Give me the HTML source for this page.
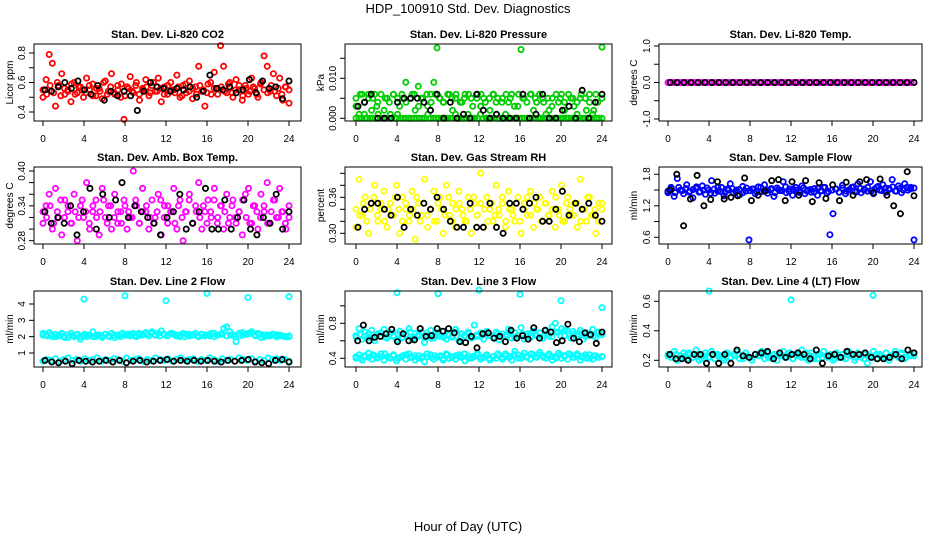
<!DOCTYPE html>
<html><head><meta charset="utf-8">
<style>
html,body{margin:0;padding:0;background:#fff;}
svg{display:block;font-family:"Liberation Sans",Arial,sans-serif;}
</style></head>
<body>
<svg id="chart" width="936" height="540" viewBox="0 0 936 540" xmlns="http://www.w3.org/2000/svg">
<rect x="0" y="0" width="936" height="540" fill="#fff"/>
<text x="468" y="13" text-anchor="middle" font-size="13">HDP_100910  Std. Dev. Diagnostics</text>
<text x="468" y="531" text-anchor="middle" font-size="13">Hour of Day (UTC)</text>
</svg>
<script>
const xTicks=[0,4,8,12,16,20,24];
// ---- data ----
const co2Vals=[0.50,0.62,0.79,0.73,0.44,0.58,0.66,0.52,0.55,0.47,0.60,0.53,0.57,0.50,0.63,0.55,0.59,0.51,0.56,0.49,0.61,0.54,0.66,0.52,0.58,0.50,0.35,0.57,0.64,0.53,0.60,0.48,0.56,0.62,0.51,0.58,0.54,0.63,0.47,0.57,0.52,0.60,0.55,0.65,0.50,0.58,0.53,0.61,0.49,0.57,0.71,0.54,0.44,0.59,0.52,0.67,0.56,0.85,0.71,0.53,0.60,0.50,0.62,0.55,0.48,0.58,0.52,0.63,0.56,0.50,0.60,0.78,0.71,0.54,0.66,0.51,0.63,0.48,0.57,0.46];
const co2Dense=[0.55,0.52,0.58,0.53,0.60,0.51,0.56,0.54,0.59,0.52,0.57,0.55,0.53,0.58,0.51,0.56,0.54,0.60,0.52,0.57,0.53,0.55,0.59,0.51,0.56,0.54,0.58,0.52,0.55,0.57,0.53,0.60,0.54,0.56,0.52,0.58,0.55,0.53,0.57,0.51,0.59,0.54,0.56,0.52,0.58,0.55,0.53,0.60,0.56,0.52,0.57,0.54,0.59,0.53,0.55,0.58,0.51,0.56,0.54,0.57,0.52,0.59,0.55,0.53,0.58,0.54,0.56,0.52,0.57,0.55];
const co2Black=[0.55,0.54,0.57,0.60,0.56,0.61,0.55,0.52,0.58,0.48,0.54,0.51,0.54,0.51,0.41,0.54,0.60,0.57,0.56,0.54,0.56,0.55,0.57,0.50,0.54,0.65,0.56,0.55,0.57,0.53,0.55,0.62,0.53,0.61,0.56,0.57,0.49,0.61];
const presVals=[0.003,0.001,0.006,0.000,0.005,0.002,0.006,0.004,0.000,0.002,0.005,0.001,0.006,0.000,0.003,0.005,0.009,0.000,0.006,0.002,0.008,0.005,0.000,0.003,0.006,0.009,0.0176,0.005,0.004,0.000,0.006,0.002,0.005,0.000,0.004,0.006,0.001,0.005,0.000,0.006,0.003,0.005,0.000,0.002,0.006,0.004,0.000,0.005,0.001,0.004,0.006,0.000,0.003,0.0172,0.005,0.000,0.006,0.002,0.004,0.000,0.005,0.001,0.002,0.005,0.000,0.004,0.006,0.002,0.000,0.005,0.003,0.001,0.005,0.000,0.002,0.004,0.001,0.006,0.000,0.0178];
const presMid=[0.005,0.006,0.004,0.006,0.005,0.003,0.006,0.005,0.004,0.006,0.005,0.006,0.004,0.005,0.006,0.003,0.005,0.006,0.004,0.006,0.005,0.004,0.006,0.005,0.006,0.004,0.005,0.006,0.003,0.005,0.006,0.004,0.005,0.006,0.005,0.004,0.006,0.005,0.003,0.006,0.005,0.004,0.006,0.005,0.006,0.004,0.005,0.003,0.006,0.005,0.004,0.006,0.005,0.004,0.006,0.005,0.006,0.002,0.004,0.005];
const presLow=[0,0,0,0.001,0,0,0,0,0.001,0,0,0,0,0,0,0.001,0,0,0,0,0,0,0,0,0,0,0.001,0,0,0,0,0,0,0,0,0,0.001,0,0,0,0,0,0,0,0,0.001,0,0,0,0,0,0,0,0,0,0,0,0,0,0,0,0,0,0,0,0,0,0,0,0,0,0,0,0,0,0,0,0,0,0,0,0,0,0,0,0,0,0,0,0];
const presBlack=[0.003,0.004,0.006,0.000,0.000,0.000,0.004,0.005,0.005,0.005,0.004,0.002,0.006,0.000,0.004,0.000,0.001,0.000,0.006,0.002,0.000,0.001,0.000,0.000,0.000,0.006,0.000,0.001,0.006,0.000,0.000,0.002,0.003,0.000,0.007,0.000,0.004,0.006];
const tempVals=[0,0,0,0,0,0,0,0,0,0,0,0,0,0,0,0,0,0,0,0,0,0,0,0,0,0,0,0,0,0,0,0,0,0,0,0,0,0,0,0,0,0,0,0,0,0,0,0,0,0,0,0,0,0,0,0,0,0,0,0,0,0,0,0,0,0,0,0,0,0,0,0,0,0,0,0,0,0,0,0,0,0,0,0,0,0,0,0,0,0];
const tempBlack=[0,0,0,0,0,0,0,0,0,0,0,0,0,0,0,0,0,0,0,0,0,0,0,0,0,0,0,0,0,0,0,0,0,0,0,0];
const ambVals=[0.31,0.34,0.36,0.30,0.37,0.32,0.29,0.35,0.33,0.31,0.36,0.28,0.34,0.32,0.38,0.30,0.33,0.35,0.29,0.37,0.32,0.34,0.30,0.36,0.31,0.33,0.35,0.30,0.32,0.40,0.34,0.31,0.37,0.33,0.30,0.35,0.32,0.36,0.29,0.34,0.31,0.33,0.37,0.30,0.35,0.28,0.33,0.36,0.31,0.34,0.38,0.30,0.33,0.35,0.32,0.37,0.31,0.34,0.30,0.36,0.32,0.35,0.31,0.33,0.29,0.36,0.37,0.31,0.34,0.30,0.36,0.33,0.38,0.31,0.35,0.32,0.37,0.33,0.30,0.32];
const ambDense=[0.33,0.32,0.34,0.31,0.33,0.35,0.32,0.34,0.31,0.33,0.32,0.35,0.33,0.31,0.34,0.32,0.33,0.35,0.31,0.34,0.32,0.33,0.31,0.34,0.33,0.32,0.35,0.31,0.33,0.34,0.32,0.31,0.33,0.35,0.32,0.34,0.33,0.31,0.34,0.32,0.33,0.35,0.31,0.33,0.32,0.34,0.31,0.33,0.35,0.32,0.34,0.33,0.31,0.34,0.32,0.33,0.35,0.32,0.31,0.34,0.33,0.32,0.34,0.31,0.33,0.35,0.32,0.33,0.31,0.34];
const ambBlack=[0.33,0.31,0.32,0.31,0.34,0.29,0.33,0.37,0.30,0.36,0.32,0.35,0.38,0.32,0.34,0.33,0.32,0.31,0.29,0.32,0.33,0.36,0.30,0.31,0.33,0.37,0.30,0.30,0.35,0.30,0.32,0.35,0.30,0.29,0.32,0.31,0.36,0.30,0.33];
const rhVals=[0.31,0.39,0.33,0.36,0.30,0.35,0.38,0.32,0.34,0.37,0.31,0.35,0.33,0.38,0.30,0.36,0.34,0.32,0.37,0.29,0.35,0.33,0.39,0.31,0.34,0.37,0.32,0.36,0.30,0.38,0.33,0.35,0.31,0.37,0.34,0.32,0.36,0.30,0.35,0.33,0.40,0.31,0.36,0.34,0.32,0.38,0.33,0.35,0.31,0.37,0.34,0.32,0.36,0.30,0.35,0.33,0.37,0.31,0.34,0.36,0.32,0.35,0.33,0.37,0.31,0.34,0.38,0.32,0.36,0.33,0.35,0.31,0.39,0.34,0.32,0.36,0.33,0.30,0.35,0.34];
const rhDense=[0.34,0.33,0.35,0.32,0.34,0.36,0.33,0.35,0.32,0.34,0.33,0.36,0.34,0.32,0.35,0.33,0.34,0.36,0.32,0.35,0.33,0.34,0.32,0.35,0.34,0.33,0.36,0.32,0.34,0.35,0.33,0.32,0.34,0.36,0.33,0.35,0.34,0.32,0.35,0.33,0.34,0.36,0.32,0.34,0.33,0.35,0.32,0.34,0.36,0.33,0.35,0.34,0.32,0.35,0.33,0.34,0.36,0.33,0.32,0.35,0.34,0.33,0.35,0.32,0.34,0.36,0.33,0.34,0.32,0.35];
const rhBlack=[0.31,0.34,0.35,0.35,0.34,0.33,0.36,0.31,0.34,0.33,0.35,0.34,0.36,0.34,0.32,0.31,0.31,0.35,0.31,0.31,0.35,0.31,0.30,0.35,0.35,0.34,0.35,0.36,0.32,0.32,0.34,0.37,0.33,0.35,0.34,0.35,0.33,0.32];
const sfVals=[1.45,1.55,1.38,1.72,1.50,1.43,1.60,1.48,1.35,1.53,1.46,1.58,1.42,1.50,1.68,1.44,1.55,1.47,1.39,1.52,1.62,1.45,1.50,1.41,1.57,1.48,0.55,1.52,1.43,1.56,1.47,1.60,1.44,1.51,1.38,1.54,1.49,1.66,1.45,1.52,1.40,1.55,1.47,1.58,1.43,1.50,1.46,1.53,1.40,1.48,1.55,1.44,0.65,1.05,1.52,1.46,1.59,1.43,1.50,1.55,1.47,1.62,1.45,1.52,1.48,1.66,1.43,1.55,1.50,1.60,1.46,1.53,1.70,1.48,1.58,1.45,1.62,1.50,1.55,0.55];
const sfDense=[1.48,1.52,1.45,1.55,1.49,1.53,1.46,1.51,1.56,1.47,1.50,1.54,1.44,1.52,1.48,1.55,1.46,1.50,1.53,1.47,1.51,1.45,1.54,1.49,1.52,1.46,1.55,1.48,1.50,1.53,1.45,1.51,1.49,1.56,1.47,1.52,1.50,1.45,1.54,1.48,1.51,1.46,1.53,1.49,1.55,1.47,1.50,1.52,1.46,1.54,1.48,1.51,1.56,1.47,1.53,1.50,1.55,1.48,1.52,1.57,1.49,1.54,1.51,1.56,1.48,1.53,1.50,1.55,1.52,1.54];
const sfBlack=[1.50,1.80,0.82,1.33,1.78,1.20,1.32,1.66,1.33,1.36,1.39,1.73,1.30,1.40,1.48,1.68,1.70,1.30,1.66,1.40,1.68,1.28,1.64,1.34,1.60,1.30,1.65,1.40,1.66,1.70,1.45,1.71,1.40,1.20,1.05,1.85,1.39];
const l2Hi=[2.2,2.1,2.25,2.0,2.15,2.05,2.2,1.95,2.1,2.2,2.0,2.15,1.85,2.05,2.0,2.1,2.3,2.0,2.1,1.95,2.15,2.05,2.2,1.95,2.1,2.0,2.1,2.15,2.05,2.2,2.0,2.1,2.15,2.25,2.05,2.3,2.1,2.2,2.35,2.1,2.05,2.2,2.15,2.1,2.0,2.2,2.15,2.05,2.1,2.2,2.0,2.15,2.05,2.1,2.2,2.0,2.1,2.15,2.5,2.6,2.3,2.1,1.7,2.2,2.25,2.15,2.2,2.3,2.1,2.2,1.95,2.0,2.1,2.05,2.15,2.0,2.1,2.05,2.0,2.0];
const l2HiB=[2.1,2.05,2.15,2.0,2.1,2.0,1.95,2.05,2.1,2.0,2.15,2.05,2.0,2.1,2.05,2.15,2.0,2.1,2.05,2.2,2.1,2.15,2.05,2.2,2.1,2.15,2.2,2.1,2.05,2.15,2.1,2.2,2.05,2.1,2.0,2.15,2.1,2.05,2.15,2.1,2.05,2.2,2.1,2.15,2.05,2.1,2.0,2.05,2.1,2.15,2.2,2.05,2.15,2.1,2.05,2.15,2.1,2.05,2.0,2.05];
const l2Lo=[0.5,0.6,0.55,0.65,0.5,0.6,0.7,0.55,0.6,0.5,0.65,0.55,0.6,0.7,0.5,0.6,0.55,0.65,0.6,0.5,0.7,0.55,0.6,0.65,0.5,0.6,0.55,0.7,0.6,0.55,0.65,0.5,0.6,0.7,0.55,0.6,0.65,0.5,0.6,0.55,0.7,0.6,0.5,0.65,0.55,0.6,0.5,0.7,0.6,0.55,0.65,0.5,0.6,0.55,0.7,0.6,0.65,0.55,0.6,0.5];
const l2OutHours=[4,8,12,16,20,24];
const l2OutVals=[4.3,4.5,4.2,4.65,4.4,4.45];
const l2Black=[0.55,0.45,0.40,0.50,0.35,0.55,0.50,0.45,0.50,0.55,0.45,0.55,0.40,0.50,0.55,0.45,0.50,0.55,0.60,0.50,0.55,0.50,0.55,0.50,0.55,0.50,0.45,0.55,0.50,0.55,0.60,0.45,0.40,0.35,0.55,0.60,0.45];
const l3Hi=[0.66,0.74,0.62,0.70,0.64,0.72,0.60,0.68,0.65,0.73,0.63,0.69,0.66,0.61,0.71,0.64,0.67,0.74,0.62,0.68,0.65,0.70,0.58,0.66,0.72,0.63,0.69,0.65,0.71,0.62,0.67,0.64,0.73,0.60,0.68,0.66,0.70,0.63,0.78,0.65,0.69,0.62,0.71,0.66,0.64,0.70,0.61,0.68,0.65,0.73,0.63,0.69,0.66,0.75,0.62,0.68,0.64,0.71,0.66,0.69,0.63,0.72,0.65,0.76,0.80,0.70,0.74,0.66,0.71,0.63,0.68,0.65,0.72,0.62,0.69,0.66,0.73,0.64,0.70,0.67];
const l3HiB=[0.64,0.67,0.65,0.68,0.63,0.66,0.69,0.64,0.67,0.65,0.68,0.63,0.66,0.70,0.64,0.67,0.65,0.69,0.63,0.66,0.68,0.64,0.67,0.65,0.70,0.63,0.66,0.68,0.64,0.67,0.65,0.69,0.66,0.64,0.68,0.65,0.67,0.70,0.64,0.66,0.68,0.65,0.69,0.67,0.64,0.66,0.68,0.65,0.70,0.66,0.72,0.68,0.71,0.67,0.69,0.65,0.68,0.66,0.70,0.67];
const l3Lo=[0.40,0.44,0.38,0.42,0.46,0.39,0.43,0.41,0.45,0.38,0.42,0.40,0.44,0.37,0.41,0.43,0.39,0.45,0.41,0.38,0.43,0.40,0.36,0.42,0.44,0.39,0.41,0.43,0.38,0.45,0.40,0.42,0.39,0.44,0.41,0.37,0.43,0.40,0.42,0.46,0.39,0.41,0.44,0.38,0.42,0.40,0.43,0.39,0.45,0.41,0.38,0.48,0.44,0.40,0.46,0.42,0.39,0.44,0.41,0.47,0.43,0.40,0.45,0.38,0.42,0.46,0.40,0.43,0.39,0.44,0.41,0.45,0.38,0.42,0.40,0.44,0.39,0.43,0.41,0.42];
const l3LoB=[0.42,0.40,0.43,0.41,0.44,0.40,0.42,0.45,0.41,0.43,0.40,0.42,0.44,0.41,0.43,0.40,0.42,0.45,0.41,0.43,0.42,0.40,0.44,0.41,0.43,0.42,0.45,0.40,0.42,0.44,0.41,0.43,0.40,0.42,0.45,0.41,0.43,0.42,0.44,0.40,0.43,0.41,0.45,0.42,0.44,0.41,0.43,0.42,0.40,0.44,0.42,0.45,0.41,0.43,0.42,0.44,0.40,0.43,0.41,0.42];
const l3OutHours=[4,8,12,16,20,24];
const l3OutVals=[1.15,1.14,1.18,1.13,1.06,0.98];
const l3Black=[0.60,0.78,0.60,0.64,0.65,0.68,0.73,0.59,0.68,0.60,0.61,0.74,0.65,0.66,0.74,0.71,0.74,0.69,0.59,0.58,0.65,0.52,0.68,0.69,0.63,0.65,0.59,0.72,0.63,0.66,0.62,0.75,0.63,0.72,0.70,0.58,0.60,0.79,0.63,0.59,0.69,0.67,0.57,0.70];
const l4Vals=[0.24,0.22,0.26,0.20,0.23,0.25,0.21,0.24,0.22,0.27,0.20,0.23,0.25,0.22,0.26,0.21,0.24,0.23,0.20,0.25,0.22,0.24,0.26,0.21,0.23,0.25,0.22,0.20,0.24,0.23,0.26,0.21,0.25,0.22,0.24,0.20,0.23,0.26,0.22,0.25,0.21,0.24,0.23,0.27,0.22,0.20,0.25,0.23,0.21,0.24,0.26,0.22,0.23,0.20,0.25,0.22,0.24,0.21,0.26,0.23,0.20,0.25,0.22,0.24,0.18,0.23,0.26,0.21,0.24,0.22,0.25,0.20,0.23,0.26,0.22,0.24,0.21,0.27,0.23,0.25];
const l4Dense=[0.23,0.22,0.24,0.21,0.23,0.25,0.22,0.24,0.21,0.23,0.22,0.24,0.23,0.21,0.25,0.22,0.23,0.24,0.21,0.23,0.22,0.24,0.23,0.25,0.22,0.21,0.23,0.24,0.22,0.23,0.21,0.24,0.22,0.25,0.23,0.21,0.24,0.22,0.23,0.24,0.21,0.23,0.22,0.25,0.23,0.22,0.24,0.21,0.23,0.22,0.24,0.23,0.21,0.22,0.24,0.23,0.25,0.22,0.24,0.23];
const l4OutHours=[4,12,20];
const l4OutVals=[0.67,0.61,0.64];
const l4Black=[0.24,0.21,0.21,0.20,0.24,0.24,0.18,0.24,0.18,0.24,0.18,0.27,0.23,0.22,0.24,0.25,0.26,0.21,0.25,0.22,0.24,0.25,0.24,0.21,0.27,0.18,0.23,0.24,0.22,0.26,0.24,0.24,0.25,0.22,0.21,0.21,0.22,0.24,0.21,0.27,0.25];

const CYAN='#00ffff';
const panels=[
 {name:'co2',title:'Stan. Dev. Li-820 CO2',ylab:'Licor ppm',col:0,row:0,ya:[0.4,112],yb:[0.8,53],yt:[0.4,0.5,0.6,0.7,0.8],yl:['0.4','','0.6','','0.8'],series:[{v:co2Vals,c:'#ff0000'},{v:co2Dense,c:'#ff0000'},{v:co2Black,c:'#000'}]},
 {name:'pressure',title:'Stan. Dev. Li-820 Pressure',ylab:'kPa',col:1,row:0,ya:[0,118.3],yb:[0.01,78.3],yt:[0,0.005,0.01,0.015],yl:['0.000','','0.010',''],series:[{v:presLow,c:'#00cc00'},{v:presVals,c:'#00cc00'},{v:presMid,c:'#00cc00'},{v:presBlack,c:'#000'}]},
 {name:'temp',title:'Stan. Dev. Li-820 Temp.',ylab:'degrees C',col:2,row:0,ya:[-1,119],yb:[1,46],yt:[-1,-0.5,0,0.5,1],yl:['-1.0','','0.0','','1.0'],series:[{v:tempVals,c:'#ff00ff'},{v:tempBlack,c:'#000'}]},
 {name:'amb-box-temp',title:'Stan. Dev. Amb. Box Temp.',ylab:'degrees C',col:0,row:1,ya:[0.28,240.7],yb:[0.40,171],yt:[0.28,0.30,0.32,0.34,0.36,0.38,0.40],yl:['0.28','','','0.34','','','0.40'],series:[{v:ambVals,c:'#ff00ff'},{v:ambDense,c:'#ff00ff'},{v:ambBlack,c:'#000'}]},
 {name:'gas-stream-rh',title:'Stan. Dev. Gas Stream RH',ylab:'percent',col:1,row:1,ya:[0.30,233.3],yb:[0.36,197.3],yt:[0.30,0.32,0.34,0.36,0.38,0.40],yl:['0.30','','','0.36','',''],series:[{v:rhVals,c:'#ffff00'},{v:rhDense,c:'#ffff00'},{v:rhBlack,c:'#000'}]},
 {name:'sample-flow',title:'Stan. Dev. Sample Flow',ylab:'ml/min',col:2,row:1,ya:[0.6,237.3],yb:[1.8,174.3],yt:[0.6,0.9,1.2,1.5,1.8],yl:['0.6','','1.2','','1.8'],series:[{v:sfVals,c:'#0000ff'},{v:sfDense,c:'#0000ff'},{v:sfBlack,c:'#000'}]},
 {name:'line2-flow',title:'Stan. Dev. Line 2 Flow',ylab:'ml/min',col:0,row:2,ya:[1,353],yb:[4,304],yt:[1,2,3,4],yl:['1','2','3','4'],series:[{v:l2Hi,c:CYAN},{v:l2HiB,c:CYAN},{v:l2Lo,c:CYAN},{v:l2OutVals,h:l2OutHours,c:CYAN},{v:l2Black,c:'#000'}]},
 {name:'line3-flow',title:'Stan. Dev. Line 3 Flow',ylab:'ml/min',col:1,row:2,ya:[0.4,358.3],yb:[0.8,323.3],yt:[0.4,0.6,0.8,1.0],yl:['0.4','','0.8',''],series:[{v:l3Hi,c:CYAN},{v:l3HiB,c:CYAN},{v:l3Lo,c:CYAN},{v:l3LoB,c:CYAN},{v:l3OutVals,h:l3OutHours,c:CYAN},{v:l3Black,c:'#000'}]},
 {name:'line4-flow',title:'Stan. Dev. Line 4 (LT) Flow',ylab:'ml/min',col:2,row:2,ya:[0.2,360.3],yb:[0.6,301.3],yt:[0.2,0.4,0.6],yl:['0.2','0.4','0.6'],series:[{v:l4Vals,c:CYAN},{v:l4Dense,c:CYAN},{v:l4OutVals,h:l4OutHours,c:CYAN},{v:l4Black,c:'#000'}]}
];
const colX=[{L:34,R:301,x0:43,x24:289,yl:9},{L:345,R:612,x0:356,x24:602,yl:320},{L:659,R:922,x0:668,x24:914,yl:633}];
const rowY=[{T:44,B:121},{T:167,B:244},{T:291,B:367}];
const NS='http://www.w3.org/2000/svg';
const svg=document.getElementById('chart');
function mk(tag,attrs,parent){const e=document.createElementNS(NS,tag);for(const k in attrs)e.setAttribute(k,attrs[k]);(parent||svg).appendChild(e);return e;}
panels.forEach(p=>{
 const c=colX[p.col],r=rowY[p.row];
 const g=mk('g',{});
 
 
 const xs=h=>c.x0+(c.x24-c.x0)*h/24;
 const ys=v=>p.ya[1]+(p.yb[1]-p.ya[1])*(v-p.ya[0])/(p.yb[0]-p.ya[0]);
 const t=mk('text',{x:(c.L+c.R)/2,y:r.T-6,'text-anchor':'middle','font-size':'11','font-weight':'bold'},g);
 t.textContent=p.title;
 
 
 const yl=mk('text',{x:0,y:0,'text-anchor':'middle','font-size':'10',transform:`translate(${c.yl+4},${(r.T+r.B)/2}) rotate(-90)`},g);
 yl.textContent=p.ylab;
 
 
 const pg=mk('g',{fill:'none','stroke-width':'1.8'},g);
 
 
 p.series.forEach(s=>{
  const n=s.v.length;
  const off=s.c==='#000'?0.3:0;
  s.v.forEach((v,i)=>{
   const h=s.h?s.h[i]:(n>1?(i+off)*24/(n-1+off):0);
   const cc=mk('circle',{cx:xs(Math.min(24,h)).toFixed(1),cy:ys(v).toFixed(1),r:'2.6',stroke:s.c},pg);
   
   
  });
 });
 const box=mk('rect',{x:c.L,y:r.T,width:c.R-c.L,height:r.B-r.T,fill:'none',stroke:'#000','stroke-width':'1'},g);
 
 
 const xa=mk('g',{},g);
 
 
 mk('line',{x1:xs(0),x2:xs(24),y1:r.B,y2:r.B,stroke:'#000'},xa);
 xTicks.forEach(h=>{
  mk('line',{x1:xs(h),x2:xs(h),y1:r.B,y2:r.B+5,stroke:'#000'},xa);
  const tl=mk('text',{x:xs(h),y:r.B+21,'text-anchor':'middle','font-size':'10'},xa);
  tl.textContent=String(h);
  
  
 });
 const ya=mk('g',{},g);
 
 
 mk('line',{x1:c.L,x2:c.L,y1:ys(p.yt[0]),y2:ys(p.yt[p.yt.length-1]),stroke:'#000'},ya);
 p.yt.forEach((v,i)=>{
  const y=ys(v);
  mk('line',{x1:c.L-5,x2:c.L,y1:y,y2:y,stroke:'#000'},ya);
  if(p.yl[i]){
   const tl=mk('text',{x:0,y:0,'text-anchor':'middle','font-size':'10',transform:`translate(${c.L-9},${y}) rotate(-90)`},ya);
   tl.textContent=p.yl[i];
   
   
  }
 });
});
</script>
</body></html>
